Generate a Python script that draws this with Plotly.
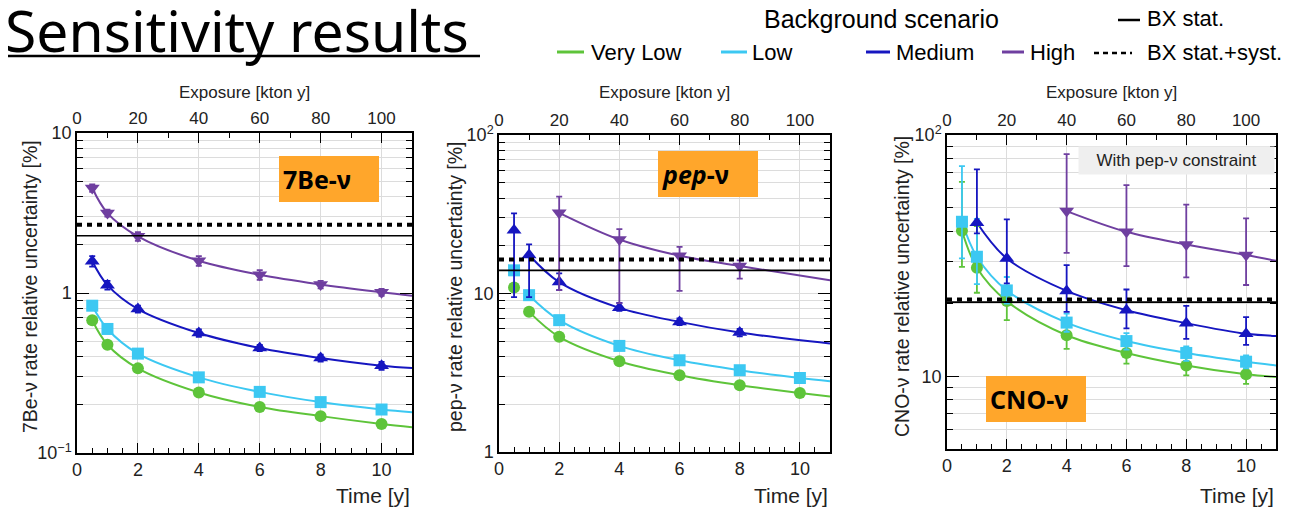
import math
import plotly.graph_objects as go

# page body has an 8px margin; the figure is sized so that it fills the rest of the window
OFF = 8
W, H = 1302 - OFF, 511 - OFF

# ---------------- data ----------------
time_ticks = [0, 2, 4, 6, 8, 10]
exposure_ticks = [0, 20, 40, 60, 80, 100]
exposure_range = [0, 110]
t_all = [0.5, 1, 2, 4, 6, 8, 10]
t_end = 11

scenarios = ["Very Low", "Low", "Medium", "High"]

# 7Be-nu
be_vlow = [0.675, 0.475, 0.338, 0.239, 0.194, 0.170, 0.152]
be_low = [0.833, 0.596, 0.418, 0.297, 0.241, 0.208, 0.187]
be_med = [1.58, 1.12, 0.794, 0.562, 0.453, 0.392, 0.351]
be_high = [4.53, 3.16, 2.26, 1.59, 1.30, 1.13, 1.01]
be_vlow_err = [0.01, 0.01, 0.006, 0.004, 0.003, 0.003, 0.003]
be_low_err = [0.015, 0.01, 0.008, 0.006, 0.005, 0.004, 0.004]
be_med_err = [0.12, 0.07, 0.04, 0.03, 0.02, 0.02, 0.02]
be_high_err = [0.25, 0.16, 0.14, 0.11, 0.09, 0.06, 0.05]
be_fit_end = [0.145, 0.180, 0.340, 0.960]
be_bx_stat = 2.28
be_bx_syst = 2.67

# pep-nu
pep_t_vlow = [0.5, 1, 2, 4, 6, 8, 10]
pep_vlow = [10.9, 7.66, 5.33, 3.74, 3.05, 2.64, 2.36]
pep_vlow_ep = [0.3, 0.2, 0.15, 0.1, 0.08, 0.07, 0.06]
pep_vlow_em = [0.3, 0.2, 0.15, 0.1, 0.08, 0.07, 0.06]
pep_t_low = [0.5, 1, 2, 4, 6, 8, 10]
pep_low = [14.0, 9.76, 6.79, 4.67, 3.79, 3.28, 2.93]
pep_low_ep = [0.4, 0.3, 0.2, 0.12, 0.1, 0.08, 0.07]
pep_low_em = [0.4, 0.3, 0.2, 0.12, 0.1, 0.08, 0.07]
pep_t_med = [0.5, 1, 2, 4, 6, 8]
pep_med = [25.1, 17.5, 11.8, 8.12, 6.62, 5.67]
pep_med_ep = [6.9, 2.9, 1.6, 0.6, 0.35, 0.3]
pep_med_em = [15.6, 8.0, 1.3, 0.35, 0.3, 0.3]
pep_t_high = [2, 4, 6, 8]
pep_high = [32.3, 21.9, 17.3, 14.9]
pep_high_ep = [8.5, 3.6, 2.4, 1.3]
pep_high_em = [21.8, 13.2, 6.9, 2.5]
pep_fit_start = [1, 1, 1, 0]          # index of first point on the fitted curve
pep_fit_end = [2.24, 2.80, 4.83, 12.1]
pep_bx_stat = 14.0
pep_bx_syst = 16.4

# CNO-nu (with pep-nu constraint)
cno_t_vlow = [0.5, 1, 2, 4, 6, 8, 10]
cno_vlow = [40.1, 28.2, 20.5, 14.8, 12.5, 11.1, 10.2]
cno_vlow_ep = [23.9, 13.7, 1.5, 1.2, 0.9, 0.9, 0.6]
cno_vlow_em = [11.7, 6.0, 3.4, 1.8, 1.2, 1.0, 0.9]
cno_t_low = [0.5, 1, 2, 4, 6, 8, 10]
cno_low = [43.7, 31.3, 22.7, 16.7, 14.0, 12.5, 11.5]
cno_low_ep = [30.6, 13.6, 3.1, 1.5, 1.1, 0.8, 0.7]
cno_low_em = [12.9, 7.2, 2.7, 1.4, 1.1, 0.9, 0.7]
cno_t_med = [1, 2, 4, 6, 8, 10]
cno_med = [43.3, 30.8, 22.6, 18.8, 16.6, 15.0]
cno_med_ep = [28.7, 13.9, 6.3, 4.1, 3.0, 2.6]
cno_med_em = [4.2, 6.5, 4.1, 3.0, 2.3, 1.5]
cno_t_high = [4, 6, 8, 10]
cno_high = [48.4, 39.7, 35.2, 31.8]
cno_high_ep = [35.0, 22.3, 16.3, 13.3]
cno_high_em = [15.9, 11.1, 9.5, 7.9]
cno_fit_start = [0, 0, 0, 0]
cno_fit_end = [9.94, 11.1, 14.7, 30.1]
cno_bx_stat = 20.3
cno_bx_syst = 20.8

# ---------------- styles ----------------
COLORS = ["#5EC43A", "#3CC8F2", "#1616C0", "#6F3FA0"]
SYMBOLS = ["circle", "square", "triangle-up", "triangle-down"]
MSIZE = [12, 12, 13, 13]
TICKFONT = "Liberation Sans, Arial, sans-serif"

panels = [
    dict(
        series=[
            (t_all, be_vlow, be_vlow_err, be_vlow_err, 0),
            (t_all, be_low, be_low_err, be_low_err, 0),
            (t_all, be_med, be_med_err, be_med_err, 0),
            (t_all, be_high, be_high_err, be_high_err, 0),
        ],
        fit_end=be_fit_end, bx=(be_bx_stat, be_bx_syst),
        yrange=[-1, 1], ymajor=[0.1, 1, 10], ytext=["10<sup>\u22121</sup>", "1", "10"],
        decades=[0.1, 1],
        domx=(77, 412), domy=(133, 453),
        ytitle="7Be-\u03bd rate relative uncertainty [%]", ytitle_x=30,
    ),
    dict(
        series=[
            (pep_t_vlow, pep_vlow, pep_vlow_ep, pep_vlow_em, pep_fit_start[0]),
            (pep_t_low, pep_low, pep_low_ep, pep_low_em, pep_fit_start[1]),
            (pep_t_med, pep_med, pep_med_ep, pep_med_em, pep_fit_start[2]),
            (pep_t_high, pep_high, pep_high_ep, pep_high_em, pep_fit_start[3]),
        ],
        fit_end=pep_fit_end, bx=(pep_bx_stat, pep_bx_syst),
        yrange=[0, 2], ymajor=[1, 10, 100], ytext=["1", "10", "10<sup>2</sup>"],
        decades=[1, 10],
        domx=(499, 830), domy=(135, 452),
        ytitle="pep-\u03bd rate relative uncertainty [%]", ytitle_x=455,
    ),
    dict(
        series=[
            (cno_t_vlow, cno_vlow, cno_vlow_ep, cno_vlow_em, cno_fit_start[0]),
            (cno_t_low, cno_low, cno_low_ep, cno_low_em, cno_fit_start[1]),
            (cno_t_med, cno_med, cno_med_ep, cno_med_em, cno_fit_start[2]),
            (cno_t_high, cno_high, cno_high_ep, cno_high_em, cno_fit_start[3]),
        ],
        fit_end=cno_fit_end, bx=(cno_bx_stat, cno_bx_syst),
        yrange=[math.log10(5), 2], ymajor=[10, 100], ytext=["10", "10<sup>2</sup>"],
        decades=[1, 10],
        domx=(947, 1276), domy=(135, 449),
        ytitle="CNO-\u03bd rate relative uncertainty [%]", ytitle_x=902,
    ),
]

fig = go.Figure()
layout = dict(template="none", width=W, height=H, margin=dict(l=0, r=0, t=0, b=0, pad=0),
              paper_bgcolor="white", plot_bgcolor="white", showlegend=False)


def PX(x):
    return (x - OFF) / W


def PY(y):
    return 1 - (y - OFF) / H


annotations = []
shapes = []

for i, p in enumerate(panels):
    n = i + 1
    sx = "" if n == 1 else str(n)
    xb, yb, xt = "x" + sx, "y" + sx, "x" + str(n + 3)
    # BX horizontal lines (drawn on exposure axis)
    fig.add_trace(go.Scatter(x=exposure_range, y=[p["bx"][0]] * 2, xaxis=xt, yaxis=yb,
                             mode="lines", line=dict(color="black", width=1.6),
                             hoverinfo="skip"))
    fig.add_trace(go.Scatter(x=exposure_range, y=[p["bx"][1]] * 2, xaxis=xt, yaxis=yb,
                             mode="lines", line=dict(color="black", width=4, dash="5px,5px"),
                             hoverinfo="skip"))
    # fitted curves
    for k, (tx, vy, ep, em, st) in enumerate(p["series"]):
        fig.add_trace(go.Scatter(x=list(tx[st:]) + [t_end], y=list(vy[st:]) + [p["fit_end"][k]],
                                 xaxis=xb, yaxis=yb, mode="lines",
                                 line=dict(color=COLORS[k], width=2, shape="spline", smoothing=1.0),
                                 hoverinfo="skip"))
    # markers with error bars
    for k, (tx, vy, ep, em, st) in enumerate(p["series"]):
        fig.add_trace(go.Scatter(x=tx, y=vy, xaxis=xb, yaxis=yb, mode="markers", name=scenarios[k],
                                 marker=dict(symbol=SYMBOLS[k], size=MSIZE[k], color=COLORS[k],
                                             line=dict(width=0)),
                                 error_y=dict(type="data", symmetric=False, array=ep, arrayminus=em,
                                              color=COLORS[k], thickness=1.8, width=3)))

    dx = [PX(p["domx"][0]), PX(p["domx"][1])]
    dy = [PY(p["domy"][1]), PY(p["domy"][0])]
    minor_y = [d * m for d in p["decades"] for m in range(2, 10)]
    layout["xaxis" + sx] = dict(
        domain=dx, anchor=yb, range=[0, 11], tickmode="array", tickvals=time_ticks,
        ticks="inside", ticklen=10, tickwidth=1.2, tickcolor="black", automargin=False,
        showline=True, linecolor="black", linewidth=1.5, mirror=False,
        showgrid=True, gridcolor="#DCDCDC", gridwidth=1, zeroline=False,
        minor=dict(tickmode="array", tickvals=[j * 0.5 for j in range(23)], ticks="inside",
                   ticklen=5, tickcolor="black", showgrid=False),
        tickfont=dict(size=18, family=TICKFONT, color="#222"))
    layout["xaxis" + str(n + 3)] = dict(
        overlaying=xb, anchor=yb, side="top", range=exposure_range, tickmode="array",
        tickvals=exposure_ticks, ticks="inside", ticklen=10, tickwidth=1.2, tickcolor="black",
        showline=True, linecolor="black", linewidth=1.5, showgrid=False, zeroline=False,
        automargin=False,
        minor=dict(tickmode="array", tickvals=list(range(0, 111, 10)), ticks="inside",
                   ticklen=5, tickcolor="black", showgrid=False),
        tickfont=dict(size=17, family=TICKFONT, color="#222"))
    layout["yaxis" + sx] = dict(
        domain=dy, anchor=xb, type="log", range=p["yrange"], tickmode="array",
        tickvals=p["ymajor"], ticktext=p["ytext"], ticks="inside", ticklen=12, tickwidth=1.2,
        tickcolor="black", showline=True, linecolor="black", linewidth=1.5, mirror="ticks",
        showgrid=True, gridcolor="#DCDCDC", gridwidth=1, zeroline=False, automargin=False,
        minor=dict(tickmode="array", tickvals=minor_y, ticks="inside", ticklen=6,
                   tickcolor="black", showgrid=True, gridcolor="#DCDCDC", gridwidth=1),
        tickfont=dict(size=18, family=TICKFONT, color="#222"))

    # axis titles
    cx = (p["domx"][0] + p["domx"][1]) / 2
    annotations.append(dict(text="Exposure [kton y]", x=PX(cx), y=PY(92), xref="paper", yref="paper",
                            showarrow=False, xanchor="center", yanchor="middle",
                            font=dict(size=17, family=TICKFONT, color="#222")))
    annotations.append(dict(text="Time [y]", x=PX(p["domx"][1]), y=PY(495), xref="paper", yref="paper",
                            showarrow=False, xanchor="right", yanchor="middle",
                            font=dict(size=21, family=TICKFONT, color="#222")))
    annotations.append(dict(text=p["ytitle"], x=PX(p["ytitle_x"]), y=PY(287), xref="paper", yref="paper",
                            showarrow=False, xanchor="center", yanchor="middle", textangle=-90,
                            font=dict(size=19.5, family=TICKFONT, color="#222")))

# orange labels
BOXFONT = "Noto Sans, Open Sans, sans-serif"
for txt, cx, cy in [("<b>7Be-\u03bd</b>", 329, 179), ("<b><i>pep</i>-\u03bd</b>", 708, 174),
                    ("<b>CNO-\u03bd</b>", 1036, 399)]:
    annotations.append(dict(text=txt, x=PX(cx), y=PY(cy), xref="paper", yref="paper", showarrow=False,
                            xanchor="center", yanchor="middle", width=92, height=38, align="left",
                            borderpad=0, borderwidth=4, bordercolor="#FFA62B",
                            bgcolor="#FFA62B", font=dict(size=25, family=BOXFONT, color="black")))
annotations.append(dict(text="With pep-\u03bd constraint", x=PX(1176), y=PY(160), xref="paper", yref="paper",
                        showarrow=False, xanchor="center", yanchor="middle", width=193, height=25,
                        bgcolor="#EFEFEF", font=dict(size=17, family=TICKFONT, color="#222")))

# title
annotations.append(dict(text="Sensitivity results", x=PX(3), y=PY(30), xref="paper", yref="paper",
                        showarrow=False, xanchor="left", yanchor="middle",
                        font=dict(size=57, family="Noto Sans, sans-serif", color="black")))
shapes.append(dict(type="line", xref="paper", yref="paper", x0=PX(8), x1=PX(480), y0=PY(56), y1=PY(56),
                   line=dict(color="black", width=2.5)))

# legend
LEGFONT = dict(size=22, family=TICKFONT, color="black")
annotations.append(dict(text="Background scenario", x=PX(881), y=PY(19), xref="paper", yref="paper",
                        showarrow=False, xanchor="center", yanchor="middle",
                        font=dict(size=25, family=TICKFONT, color="black")))
leg_items = [(557, 584, 589), (721, 747, 750), (866, 890, 894), (1002, 1024, 1028)]
for k, (l0, l1, tx) in enumerate(leg_items):
    shapes.append(dict(type="line", xref="paper", yref="paper", x0=PX(l0), x1=PX(l1), y0=PY(52), y1=PY(52),
                       line=dict(color=COLORS[k], width=3)))
    annotations.append(dict(text=scenarios[k], x=PX(tx), y=PY(52), xref="paper", yref="paper",
                            showarrow=False, xanchor="left", yanchor="middle", font=LEGFONT))
shapes.append(dict(type="line", xref="paper", yref="paper", x0=PX(1118), x1=PX(1140), y0=PY(20), y1=PY(20),
                   line=dict(color="black", width=2.5)))
annotations.append(dict(text="BX stat.", x=PX(1145), y=PY(19), xref="paper", yref="paper",
                        showarrow=False, xanchor="left", yanchor="middle", font=LEGFONT))
shapes.append(dict(type="line", xref="paper", yref="paper", x0=PX(1094), x1=PX(1132), y0=PY(53), y1=PY(53),
                   line=dict(color="black", width=2.5, dash="5px,4px")))
annotations.append(dict(text="BX stat.+syst.", x=PX(1145), y=PY(52), xref="paper", yref="paper",
                        showarrow=False, xanchor="left", yanchor="middle", font=LEGFONT))

layout["annotations"] = annotations
layout["shapes"] = shapes
fig.update_layout(**layout)
fig.write_html("out.html")
